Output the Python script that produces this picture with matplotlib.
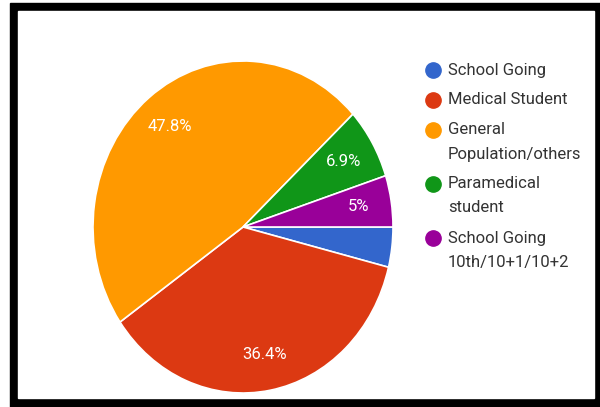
import matplotlib.pyplot as plt
from matplotlib.patches import Rectangle

plt.rcParams['font.family'] = ['Roboto', 'DejaVu Sans']

# survey responses by respondent group
labels = ['School Going', 'Medical Student', 'General\nPopulation/others',
          'Paramedical\nstudent', 'School Going\n10th/10+1/10+2']
shares = [3.9, 36.4, 47.8, 6.9, 5.0]
colors = ['#3366cc', '#dc3912', '#ff9900', '#109618', '#990099']

W, H = 600, 407
fig = plt.figure(figsize=(W / 100, H / 100), dpi=100)

# background layer in pixel coordinates: black frame + legend
bg = fig.add_axes([0, 0, 1, 1], zorder=0)
bg.set_xlim(0, W)
bg.set_ylim(H, 0)
bg.axis('off')
bg.add_patch(Rectangle((10, 3), 590, 404, color='black'))
bg.add_patch(Rectangle((18, 11), 576, 387, color='white'))

y = 70
for lab, col in zip(labels, colors):
    bg.plot(433, y, 'o', ms=11, color=col)
    lines = lab.split('\n')
    for i, line in enumerate(lines):
        bg.text(448, y + i * 24, line, fontsize=12, color='#333333',
                va='center', ha='left')
    y += 30 + (len(lines) - 1) * 24


def pct_label(p):
    return '' if p < 4.5 else f'{round(p, 1):g}%'


# pie slightly stretched vertically
ax = fig.add_axes([93 / W, 14 / H, 300 / W, 332 / H], zorder=1)
ax.patch.set_alpha(0)
wedges, texts, autotexts = ax.pie(
    shares, colors=colors, startangle=0, counterclock=False,
    autopct=pct_label, pctdistance=0.78,
    wedgeprops=dict(edgecolor='white', linewidth=1.2),
    textprops=dict(color='white', fontsize=12))
ax.set_aspect('auto')
ax.set_xlim(-1, 1)
ax.set_ylim(-1, 1)
ax.axis('off')

fig.savefig('out.png', dpi=100)
